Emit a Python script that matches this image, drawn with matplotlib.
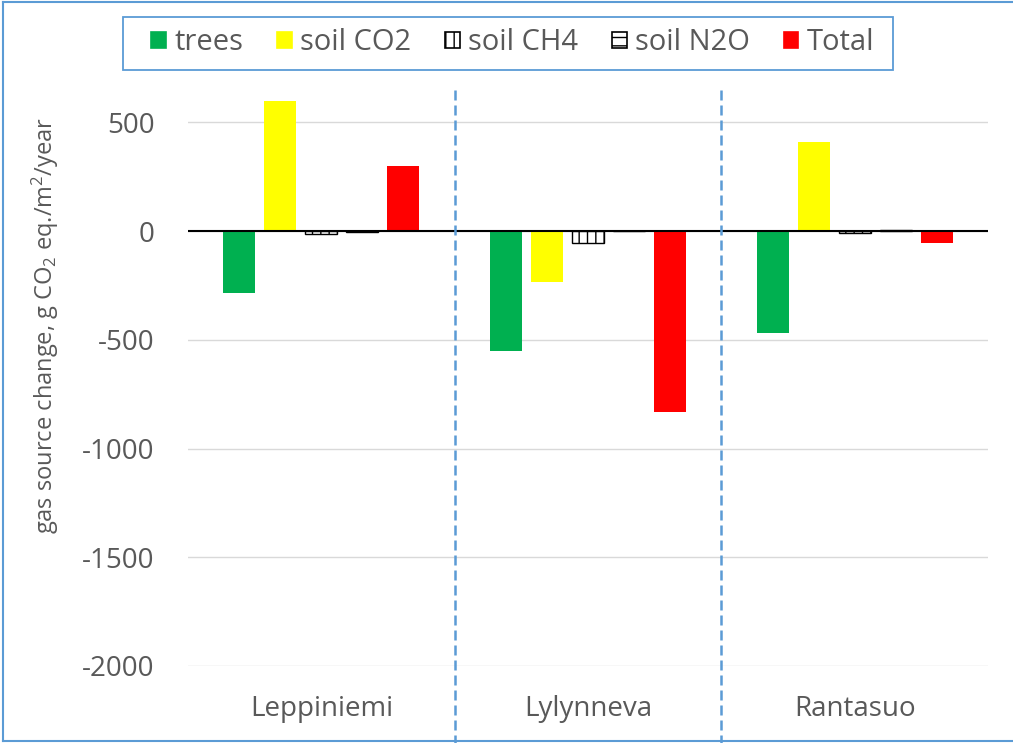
import matplotlib
matplotlib.use("Agg")
import matplotlib.pyplot as plt
import numpy as np
from matplotlib.patches import Patch
from matplotlib.lines import Line2D
import matplotlib.transforms as mtransforms

plt.rcParams['font.family'] = ['Open Sans', 'DejaVu Sans']
plt.rcParams['mathtext.fontset'] = 'custom'
plt.rcParams['mathtext.rm'] = 'Open Sans'
plt.rcParams['mathtext.it'] = 'Open Sans'
plt.rcParams['hatch.linewidth'] = 1.0

# ---- data ----
sites = ["Leppiniemi", "Lylynneva", "Rantasuo"]
series_names = ["trees", "soil CO2", "soil CH4", "soil N2O", "Total"]
trees = [-286, -553, -470]
soil_co2 = [599, -235, 410]
soil_ch4 = [-15, -55, -7]
soil_n2o = [-5, 2, 5]
total = [300, -834, -55]
yticks = [500, 0, -500, -1000, -1500, -2000]

series = [trees, soil_co2, soil_ch4, soil_n2o, total]
facecolors = ["#00B050", "#FFFF00", "white", "white", "#FF0000"]
edgecolors = ["none", "none", "black", "black", "none"]
hatches = [None, None, "||", "--", None]

text_color = "#595959"
blue = "#5B9BD5"

fig = plt.figure(figsize=(10.13, 7.43), dpi=100)
ax = fig.add_axes([188/1013, 1-666/743, 800/1013, (666-100.7)/743])

x = np.arange(len(sites))
step = 0.154
width = 0.12
for i, (vals, fc, ec, h, name) in enumerate(zip(series, facecolors, edgecolors, hatches, series_names)):
    ax.bar(x + (i - 2) * step, vals, width=width, color=fc, edgecolor=ec,
           hatch=h, linewidth=1.0 if ec != "none" else 0, label=name, zorder=3)

ax.set_xlim(-0.5, len(sites) - 0.5)
ax.set_ylim(-2000, 600)
ax.set_yticks(yticks)
ax.set_yticklabels([str(v) for v in yticks])
ax.set_xticks(x)
ax.set_xticklabels(sites)
ax.yaxis.grid(True, color="#D9D9D9", linewidth=1.0, zorder=0)
ax.set_axisbelow(True)
for s in ax.spines.values():
    s.set_visible(False)
ax.tick_params(axis='y', length=0, pad=24, labelsize=20, labelcolor=text_color)
ax.tick_params(axis='x', length=0, pad=21, labelsize=20, labelcolor=text_color)
ax.axhline(0, color="black", linewidth=1.5, zorder=4)

# dashed separators
trans = mtransforms.blended_transform_factory(ax.transData, ax.transAxes)
for xs in [0.5, 1.5]:
    ax.add_line(Line2D([xs, xs], [(666-90)/565.3, (666-745)/565.3], transform=trans,
                       color=blue, linewidth=1.8, linestyle=(0, (4, 2)), clip_on=False, zorder=5))

# y label
fig.text(45/1013, 1-325/743, "gas source change, g CO$_2$ eq./m$^2$/year",
         rotation=90, ha='center', va='center', fontsize=17, color=text_color)

# legend frame
fig.add_artist(plt.Rectangle((123/1013, 1-70/743), (893-123)/1013, 53/743,
                             transform=fig.transFigure, fill=False, edgecolor=blue, linewidth=1.3))
handles = [Patch(facecolor=fc, edgecolor=(ec if ec != "none" else fc), hatch=h, linewidth=1.2)
           for fc, ec, h in zip(facecolors, edgecolors, hatches)]
leg = fig.legend(handles, series_names, ncol=5, loc='center',
                 bbox_to_anchor=(513/1013, 1-43/743), frameon=False, fontsize=21,
                 handlelength=0.5, handleheight=0.5, handletextpad=0.3, columnspacing=1.15,
                 labelcolor=text_color)

# figure border
for (xa, ya) in [([3/1013, 3/1013], [2/743, 1-2/743]),
                 ([3/1013, 1], [1-2/743, 1-2/743]),
                 ([3/1013, 1], [2/743, 2/743])]:
    fig.add_artist(Line2D(xa, ya, transform=fig.transFigure, color=blue, linewidth=1.5))

fig.savefig("out.png", dpi=100)
